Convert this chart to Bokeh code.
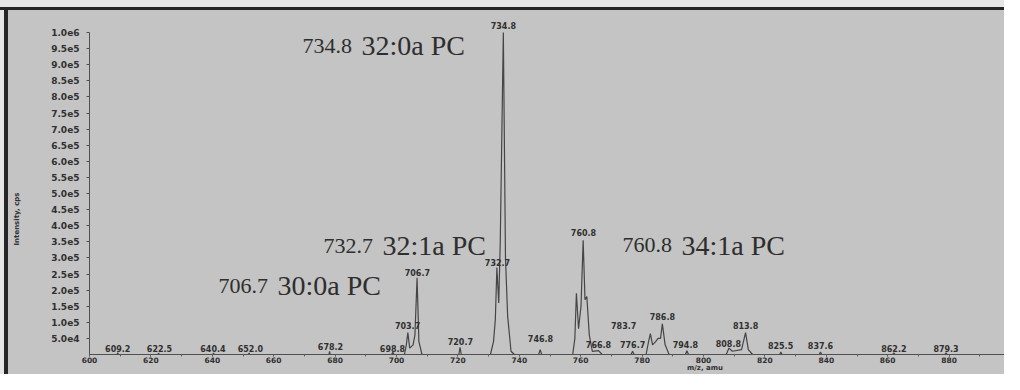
import math
from bokeh.plotting import figure
from bokeh.models import FixedTicker, Range1d, LinearAxis
from bokeh.core.properties import value
from bokeh.embed import file_html
from bokeh.resources import INLINE

# ---- profile spectrum (m/z, counts) ----
mz_profile = [600.0, 609.0, 609.2, 609.4, 622.3, 622.5, 622.7, 640.2, 640.4, 640.6,
              651.8, 652.0, 652.2, 678.0, 678.2, 678.4, 698.4, 698.8, 699.2,
              702.6, 703.2, 703.7, 704.3, 705.4, 706.0, 706.7, 707.3, 708.3,
              720.3, 720.7, 721.1,
              730.6, 731.6, 732.2, 732.7, 733.3, 733.8, 734.8, 735.5, 736.2, 737.3, 738.4,
              746.3, 746.8, 747.3,
              757.4, 758.1, 758.6, 759.3, 760.1, 760.8, 761.4, 762.0, 762.8, 763.8, 765.8, 767.0,
              776.4, 776.9, 777.4,
              781.3, 782.1, 782.7, 783.4, 784.4, 785.2, 786.0, 786.6, 787.5, 788.8,
              794.1, 794.6, 795.1,
              807.4, 808.3, 809.4, 812.4, 813.7, 814.6, 816.0,
              824.8, 825.2, 825.6, 837.7, 838.1, 838.5, 861.6, 862.0, 862.4,
              878.6, 879.0, 879.4, 897.0]
intensity_profile = [0, 0, 6e3, 0, 0, 5e3, 0, 0, 5e3, 0,
                     0, 5e3, 0, 0, 1.0e4, 0, 0, 7e3, 0,
                     0, 3.0e4, 6.8e4, 2.0e4, 3.0e4, 6.0e4, 2.38e5, 4.0e4, 0,
                     0, 2.2e4, 0,
                     0, 4.0e4, 1.1e5, 2.7e5, 1.6e5, 3.5e5, 1.0e6, 3.0e5, 1.2e5, 1.0e4, 0,
                     0, 1.5e4, 0,
                     0, 5.0e4, 1.9e5, 8.0e4, 1.5e5, 3.55e5, 1.7e5, 1.8e5, 6.0e4, 1.0e4, 1.2e4, 0,
                     0, 1.0e4, 0,
                     0, 4.0e4, 6.5e4, 3.0e4, 4.0e4, 5.0e4, 5.0e4, 9.5e4, 3.0e4, 0,
                     0, 1.2e4, 0,
                     0, 2.0e4, 1.0e4, 1.5e4, 6.8e4, 1.5e4, 0,
                     0, 8e3, 0, 0, 8e3, 0, 0, 5e3, 0,
                     0, 5e3, 0, 0]

# ---- peak labels ----
peak_labels = ["609.2", "622.5", "640.4", "652.0", "678.2", "698.8", "703.7", "706.7",
               "720.7", "732.7", "734.8", "746.8", "760.8", "766.8", "776.7", "783.7",
               "786.8", "794.8", "808.8", "813.8", "825.5", "837.6", "862.2", "879.3"]
peak_label_mz = [609.2, 622.8, 640.2, 652.4, 678.5, 698.7, 703.6, 706.8,
                 720.8, 732.9, 734.8, 746.9, 760.9, 765.8, 776.9, 774.0,
                 786.6, 794.1, 808.1, 813.7, 825.1, 838.1, 862.0, 879.0]
peak_label_int = [9e3, 9e3, 9e3, 9e3, 1.5e4, 9e3, 8.0e4, 2.43e5,
                  3.0e4, 2.75e5, 1.012e6, 3.8e4, 3.67e5, 2.0e4, 2.0e4, 8.0e4,
                  1.07e5, 2.0e4, 2.4e4, 8.0e4, 1.8e4, 1.8e4, 9e3, 9e3]

# ---- lipid annotations ----
annot_numbers = ["734.8", "732.7", "706.7", "760.8"]
annot_species = ["32:0a PC", "32:1a PC", "30:0a PC", "34:1a PC"]
annot_mz = [669.4, 676.2, 642.0, 773.6]
annot_int = [0.959e6, 0.337e6, 0.213e6, 0.340e6]

x_ticks = list(range(600, 901, 20))
y_ticks = [i * 5e4 for i in range(1, 21)]
x_title, x_title_at = "m/z, amu", 800.5
y_title, y_title_at = "Intensity, cps", 0.503e6


def sci(v):
    e = 0
    m = v
    while m >= 10:
        m /= 10
        e += 1
    return f"{m:.1f}e{e}"


W, H = 1004, 374
LEFT, BOTTOM = 89, 20
X0, X1 = 600.0, 600.0 + (W - LEFT) / 3.07
Y0, Y1 = 0.0, 1.0e6 * (H - BOTTOM) / (H - BOTTOM - 32)

GRAY = "#c4c4c4"
# scanned page look: light strip + dark border along top and left (CSS behind a transparent canvas)
page_styles = {
    "background-image": ("linear-gradient(to bottom, #e6e6e6 0px, #e6e6e6 7px, #262626 7px, "
                         "#262626 10px, rgba(0,0,0,0) 10px), "
                         "linear-gradient(to right, #e6e6e6 0px, #e6e6e6 4px, #262626 4px, "
                         "#262626 8px, rgba(0,0,0,0) 8px)"),
    "background-repeat": "no-repeat",
    "background-color": GRAY,
}

p = figure(width=W, height=H, output_backend="svg", toolbar_location=None,
           x_range=Range1d(X0, X1), y_range=Range1d(Y0, Y1),
           background_fill_color=None, border_fill_color=None,
           min_border_left=LEFT, min_border_right=0, min_border_top=0,
           min_border_bottom=BOTTOM, outline_line_color=None)
p.styles = page_styles
p.grid.visible = False

p.line(mz_profile, intensity_profile, line_color="#454545", line_width=1.2)

p.text(x=peak_label_mz, y=peak_label_int, text=peak_labels,
       text_font=value("DejaVu Sans"), text_font_style="bold", text_font_size="8px",
       text_color="#303030", text_align="center", text_baseline="bottom")

p.text(x=annot_mz, y=annot_int, text=annot_numbers,
       text_font=value("Liberation Serif"), text_font_size="22px",
       text_color="#2e2e2e", text_align="left", text_baseline="alphabetic")
p.text(x=annot_mz, y=annot_int, text=annot_species, x_offset=59,
       text_font=value("Liberation Serif"), text_font_size="28px",
       text_color="#2e2e2e", text_align="left", text_baseline="alphabetic")

xa = p.xaxis[0]
xa.ticker = FixedTicker(ticks=x_ticks, minor_ticks=list(range(600, 901, 10)))
xa.major_tick_out = 2
xa.major_tick_in = 0
xa.minor_tick_out = 2
xa.minor_tick_in = 0
xa.major_label_standoff = 0
xa.major_label_text_font = "DejaVu Sans"
xa.major_label_text_font_style = "bold"
xa.major_label_text_font_size = "7.5px"
xa.major_label_text_color = "#303030"
xa.axis_line_color = "#505050"
xa.major_tick_line_color = "#505050"
xa.minor_tick_line_color = "#606060"

ya = p.yaxis[0]
ya.ticker = FixedTicker(ticks=y_ticks, minor_ticks=[])
ya.major_label_overrides = {t: sci(t) for t in y_ticks}
ya.bounds = (0, 1e6)
ya.major_tick_out = 3
ya.major_tick_in = 0
ya.major_label_standoff = 7
ya.major_label_text_font = "DejaVu Sans"
ya.major_label_text_font_style = "bold"
ya.major_label_text_font_size = "9px"
ya.major_label_text_color = "#303030"
ya.axis_line_color = "#505050"
ya.major_tick_line_color = "#505050"

# axis titles placed where the instrument software put them
xt = LinearAxis(ticker=FixedTicker(ticks=[x_title_at], minor_ticks=[]),
                major_label_overrides={x_title_at: x_title},
                axis_line_color=None, major_tick_line_color=None, minor_tick_line_color=None,
                major_tick_out=0, major_tick_in=0,
                major_label_standoff=-2, major_label_text_font="DejaVu Sans",
                major_label_text_font_style="bold", major_label_text_font_size="7px",
                major_label_text_color="#303030")
p.add_layout(xt, "below")

yt = LinearAxis(ticker=FixedTicker(ticks=[y_title_at], minor_ticks=[]),
                major_label_overrides={y_title_at: y_title},
                major_label_orientation=math.pi / 2,
                axis_line_color=None, major_tick_line_color=None, minor_tick_line_color=None,
                major_tick_out=0, major_tick_in=0,
                major_label_standoff=31, major_label_text_font="DejaVu Sans",
                major_label_text_font_style="bold", major_label_text_font_size="7px",
                major_label_text_color="#303030")
p.add_layout(yt, "left")

open("out.html", "w").write(file_html(p, INLINE))
